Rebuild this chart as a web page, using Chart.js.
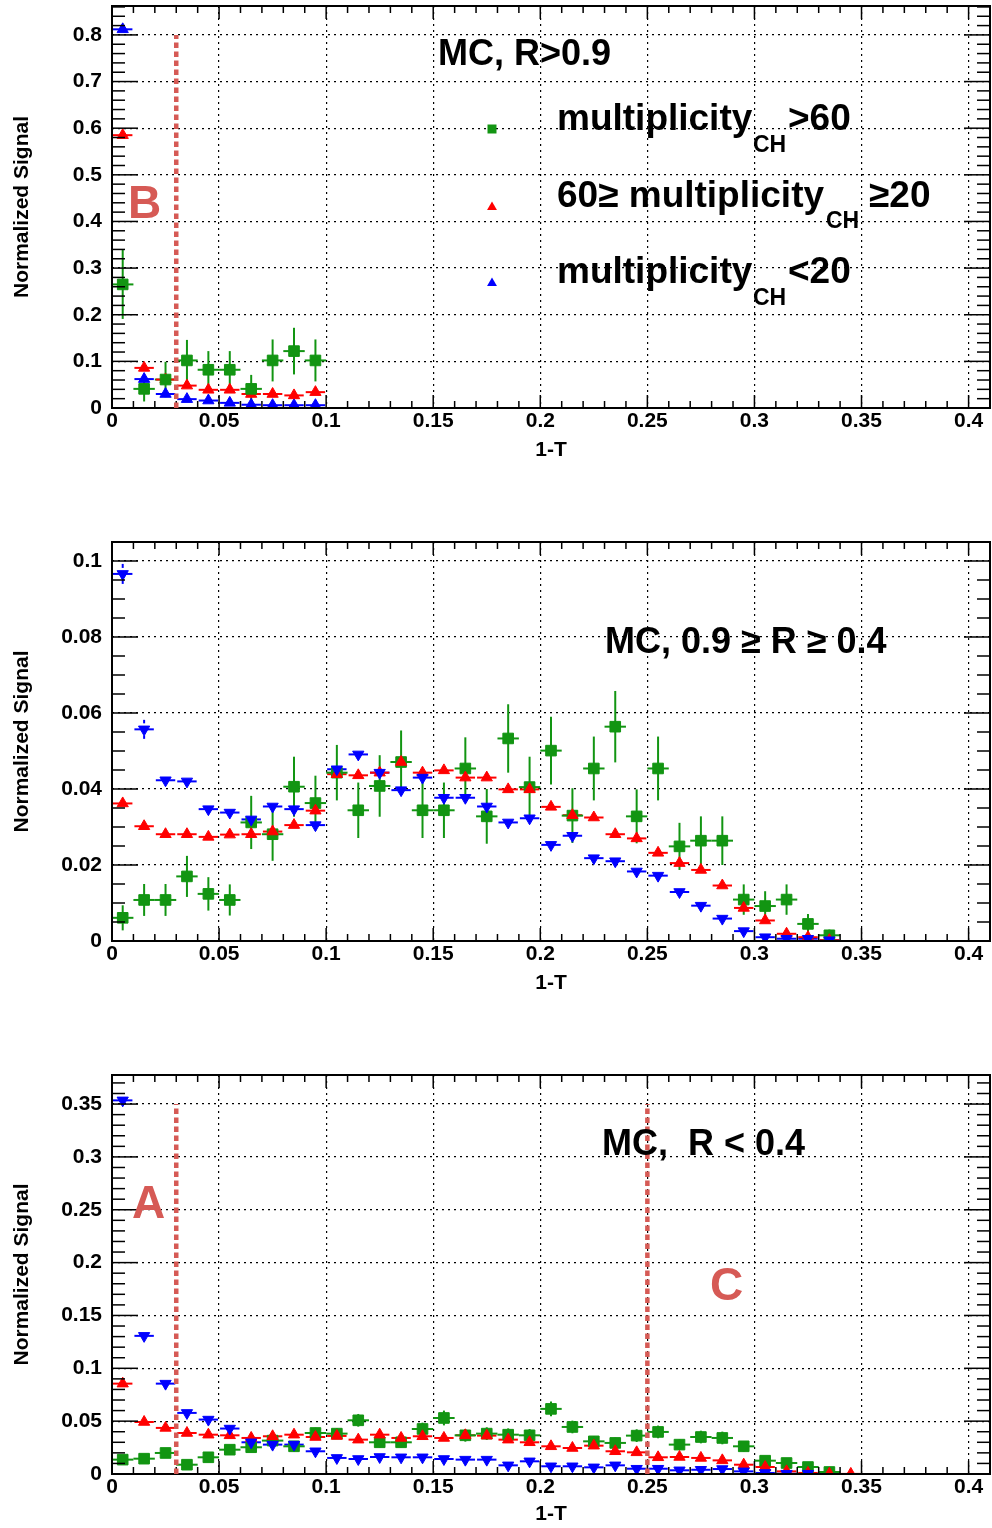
<!DOCTYPE html>
<html>
<head>
<meta charset="utf-8">
<script src="https://cdn.jsdelivr.net/npm/chart.js@4.4.1/dist/chart.umd.min.js"></script>
<style>
html,body{margin:0;padding:0;background:#fff;width:992px;height:1528px;overflow:hidden;}
canvas{position:absolute;left:0;}
</style>
</head>
<body>
<canvas id="c1"></canvas>
<canvas id="c2"></canvas>
<canvas id="c3"></canvas>
<script>
// ================= DATA =================
const BIN_HALF = 0.005;
const X_TICK_STEP = 0.05;

// ---- Panel 1 : MC, R>0.9 ----
const topBins   = [0.005,0.015,0.025,0.035,0.045,0.055,0.065,0.075,0.085,0.095];
const topGreen  = [0.265,0.041,0.061,0.102,0.082,0.082,0.041,0.102,0.122,0.102];
const topGreenErr=[0.074,0.027,0.038,0.044,0.040,0.040,0.030,0.045,0.050,0.045];
const topRed    = [0.585,0.086,0.061,0.048,0.039,0.039,0.030,0.030,0.027,0.034];
const topRedErr = [0.010,0.006,0.004,0.003,0.003,0.003,0.002,0.002,0.002,0.002];
const topBlue   = [0.812,0.062,0.030,0.019,0.016,0.011,0.007,0.006,0.006,0.006];
const topBlueErr= [0.008,0.010,0.005,0.003,0.002,0.002,0.001,0.001,0.001,0.001];

// ---- Panel 2 : MC, 0.9 >= R >= 0.4 ----
const midBins = [0.005,0.015,0.025,0.035,0.045,0.055,0.065,0.075,0.085,0.095,
                 0.105,0.115,0.125,0.135,0.145,0.155,0.165,0.175,0.185,0.195,
                 0.205,0.215,0.225,0.235,0.245,0.255,0.265,0.275,0.285,0.295,
                 0.305,0.315,0.325,0.335];
const midGreen = [0.0061,0.0108,0.0108,0.0170,0.0124,0.0108,0.0312,0.0281,0.0406,0.0363,
                  0.0443,0.0344,0.0408,0.0471,0.0344,0.0344,0.0454,0.0328,0.0533,0.0405,
                  0.0501,0.0330,0.0454,0.0564,0.0328,0.0454,0.0249,0.0264,0.0264,0.0109,
                  0.0092,0.0109,0.0045,0.0015];
const midGreenErr=[0.0033,0.0042,0.0042,0.0054,0.0044,0.0041,0.0070,0.0070,0.0079,0.0072,
                  0.0073,0.0073,0.0081,0.0083,0.0073,0.0073,0.0082,0.0072,0.0090,0.0080,
                  0.0089,0.0072,0.0084,0.0094,0.0071,0.0084,0.0062,0.0064,0.0064,0.0040,
                  0.0039,0.0040,0.0026,0.0015];
const midRed = [0.0362,0.0302,0.0281,0.0281,0.0274,0.0280,0.0281,0.0288,0.0305,0.0343,
                0.0439,0.0436,0.0443,0.0471,0.0443,0.0449,0.0430,0.0430,0.0399,0.0399,
                0.0353,0.0331,0.0325,0.0281,0.0270,0.0232,0.0205,0.0187,0.0146,0.0087,
                0.0054,0.0019,0.0010,0.0002];
const midBlue = [0.0966,0.0557,0.0423,0.0420,0.0347,0.0338,0.0320,0.0354,0.0347,0.0305,
                 0.0452,0.0491,0.0443,0.0397,0.0430,0.0377,0.0377,0.0354,0.0312,0.0323,
                 0.0253,0.0277,0.0218,0.0210,0.0183,0.0172,0.0129,0.0093,0.0059,0.0026,
                 0.0010,0.0006,0.0006,0.0002];
const midBlueErr = [0.0030,0.0025,0.0010,0.0010,0.0010,0.0010,0.0010,0.0010,0.0010,0.0010,
                    0.0010,0.0010,0.0010,0.0010,0.0010,0.0010,0.0010,0.0010,0.0010,0.0010,
                    0.0010,0.0010,0.0010,0.0010,0.0010,0.0010,0.0008,0.0008,0.0006,0.0004,
                    0.0002,0.0002,0.0002,0.0001];

// ---- Panel 3 : MC, R < 0.4 ----
const botBins = [0.005,0.015,0.025,0.035,0.045,0.055,0.065,0.075,0.085,0.095,
                 0.105,0.115,0.125,0.135,0.145,0.155,0.165,0.175,0.185,0.195,
                 0.205,0.215,0.225,0.235,0.245,0.255,0.265,0.275,0.285,0.295,
                 0.305,0.315,0.325,0.335,0.345];
const botGreen = [0.0136,0.0145,0.0199,0.0088,0.0158,0.0230,0.0253,0.0316,0.0262,0.0388,
                  0.0382,0.0508,0.0300,0.0300,0.0426,0.0530,0.0366,0.0382,0.0372,0.0366,
                  0.0616,0.0445,0.0309,0.0294,0.0363,0.0398,0.0278,0.0350,0.0341,0.0262,
                  0.0126,0.0104,0.0066,0.0019];
const botGreenErr=[0.003,0.003,0.004,0.003,0.004,0.004,0.004,0.005,0.005,0.005,
                   0.005,0.006,0.005,0.005,0.006,0.007,0.006,0.006,0.006,0.006,
                   0.007,0.006,0.005,0.005,0.006,0.006,0.005,0.006,0.006,0.005,
                   0.004,0.003,0.003,0.002];
const botRed = [0.0855,0.0492,0.0436,0.0388,0.0372,0.0366,0.0341,0.0357,0.0372,0.0350,
                0.0360,0.0325,0.0372,0.0341,0.0357,0.0341,0.0366,0.0363,0.0325,0.0300,
                0.0262,0.0246,0.0268,0.0215,0.0205,0.0158,0.0161,0.0152,0.0129,0.0088,
                0.0066,0.0025,0.0010,0.0003,0.0001];
const botBlue = [0.3535,0.1307,0.0855,0.0578,0.0515,0.0430,0.0300,0.0278,0.0278,0.0215,
                 0.0152,0.0142,0.0161,0.0158,0.0158,0.0142,0.0136,0.0136,0.0082,0.0120,
                 0.0073,0.0073,0.0063,0.0082,0.0050,0.0050,0.0035,0.0040,0.0047,0.0025,
                 0.0010,0.0003,0.0003];
const botBlueErr = [0.0060,0.0040,0.0030,0.0020,0.0020,0.0020,0.0015,0.0015,0.0015,0.0012,
                    0.0010,0.0010,0.0010,0.0010,0.0010,0.0010,0.0010,0.0010,0.0008,0.0010,
                    0.0008,0.0008,0.0008,0.0008,0.0006,0.0006,0.0005,0.0005,0.0005,0.0004,
                    0.0002,0.0001,0.0001];

// ================= STYLE =================
const FONT = '"Liberation Sans", Arial, Helvetica, sans-serif';
const GREEN = '#129512';
const RED = '#ff0000';
const BLUE = '#0000ff';
const ANNOT = '#d65a55';
const CHART_LEFT = 112, CHART_RIGHT = 990;

function pts(xs, ys){ return ys.map((v,i)=>({x:xs[i], y:v})); }
function line(ctx,x1,y1,x2,y2){ ctx.beginPath(); ctx.moveTo(x1,y1); ctx.lineTo(x2,y2); ctx.stroke(); }

function drawErrors(chart){
  const ctx = chart.ctx, xs = chart.scales.x, ys = chart.scales.y, a = chart.chartArea;
  ctx.save();
  ctx.beginPath(); ctx.rect(a.left, a.top-2, a.width, a.height+2); ctx.clip();
  chart.data.datasets.forEach(ds=>{
    ctx.strokeStyle = ds.borderColor; ctx.lineWidth = 2; ctx.lineCap = 'butt';
    ds.data.forEach((p,i)=>{
      const px = xs.getPixelForValue(p.x), py = ys.getPixelForValue(p.y);
      const xl = xs.getPixelForValue(p.x - BIN_HALF), xr = xs.getPixelForValue(p.x + BIN_HALF);
      const e = ds.errY ? (ds.errY[i]||0) : 0;
      const yt = ys.getPixelForValue(p.y + e), yb = ys.getPixelForValue(p.y - e);
      ctx.setLineDash([]);
      if (ds.solidBars){
        line(ctx, xl, py, xr, py);
        if (e) line(ctx, px, yt, px, yb);
      } else {
        line(ctx, xl+1, py, xr-1, py);
        const g = 6;
        if (e && yt < py - g - 1){
          ctx.setLineDash([4,3]);
          line(ctx, px, py-g, px, yt);
          if (yb > py + g) line(ctx, px, py+g, px, yb);
          ctx.setLineDash([]);
        }
      }
    });
  });
  ctx.restore();
}

function drawFrameTicks(chart, cfg){
  const ctx = chart.ctx, a = chart.chartArea, xs = chart.scales.x, ys = chart.scales.y;
  ctx.save();
  ctx.strokeStyle = '#000'; ctx.lineWidth = 1.5; ctx.setLineDash([]);
  for (let k = 0; k * 0.01 <= cfg.xmax + 1e-9; k++){
    const px = xs.getPixelForValue(k * 0.01);
    if (px < a.left - 0.5 || px > a.right + 0.5) continue;
    const L = (k % 5 === 0) ? 13 : 7;
    line(ctx, px, a.bottom, px, a.bottom - L);
    line(ctx, px, a.top, px, a.top + L);
  }
  const n = Math.round(cfg.ymajor / cfg.yminor);
  for (let k = 0; k * cfg.yminor <= cfg.ymax + 1e-9; k++){
    const py = ys.getPixelForValue(k * cfg.yminor);
    if (py < a.top - 0.5) continue;
    const L = (k % n === 0) ? 26 : 13;
    line(ctx, a.left, py, a.left + L, py);
    line(ctx, a.right, py, a.right - L, py);
  }
  ctx.lineWidth = 2;
  ctx.strokeRect(a.left, a.top, a.width, a.height);
  ctx.restore();
}

function drawMarker(ctx, kind, x, y, s, color){
  ctx.save(); ctx.fillStyle = color;
  ctx.beginPath();
  if (kind === 'rect'){ ctx.rect(x - s/2, y - s/2, s, s); }
  else { ctx.moveTo(x, y - s*0.5); ctx.lineTo(x + s*0.55, y + s*0.45); ctx.lineTo(x - s*0.55, y + s*0.45); ctx.closePath(); }
  ctx.fill(); ctx.restore();
}

function drawAnnot(chart, cfg){
  const ctx = chart.ctx, xs = chart.scales.x, ys = chart.scales.y, off = cfg.canvasTop;
  ctx.save();
  (cfg.vlines||[]).forEach(v=>{
    ctx.strokeStyle = ANNOT; ctx.lineWidth = 4.5; ctx.setLineDash([5.5,3.5]);
    line(ctx, xs.getPixelForValue(v.x), ys.getPixelForValue(v.y0), xs.getPixelForValue(v.x), ys.getPixelForValue(v.y1));
  });
  ctx.setLineDash([]);
  ctx.textBaseline = 'alphabetic'; ctx.textAlign = 'left';
  (cfg.texts||[]).forEach(t=>{
    ctx.fillStyle = t.color || '#000';
    ctx.font = 'bold ' + t.size + 'px ' + FONT;
    ctx.fillText(t.text, t.x, t.y - off);
  });
  (cfg.markers||[]).forEach(m=> drawMarker(ctx, m.kind, m.x, m.y - off, m.s, m.color));
  ctx.restore();
}

function makeChart(id, cfg, datasets){
  const cv = document.getElementById(id);
  cv.width = 992; cv.height = cfg.canvasH;
  cv.style.top = cfg.canvasTop + 'px';
  cv.style.width = '992px'; cv.style.height = cfg.canvasH + 'px';
  const tickFont = {family: FONT, size: 21, weight: 'bold'};
  const titleFont = {family: FONT, size: 21, weight: 'bold'};
  const fmt = v => String(+(+v).toFixed(3));
  const xAxisH = cfg.canvasTop + cfg.canvasH - cfg.chartBottom;
  const chart = new Chart(cv, {
    type: 'scatter',
    data: {datasets},
    options: {
      responsive: false, animation: false, devicePixelRatio: 1,
      layout: {autoPadding: false, padding: {top: cfg.chartTop - cfg.canvasTop, right: 992 - CHART_RIGHT, left: 0, bottom: 0}},
      plugins: {legend: {display: false}, tooltip: {enabled: false}},
      scales: {
        x: {
          type: 'linear', min: 0, max: cfg.xmax,
          afterFit: s => { s.height = xAxisH; s.paddingLeft = 0; s.paddingRight = 0; },
          ticks: {stepSize: X_TICK_STEP, includeBounds: false, padding: 1, color: '#000', font: tickFont, maxRotation: 0, autoSkip: false, callback: fmt},
          grid: {color: '#000', lineWidth: 1.2, drawTicks: false},
          border: {display: false, dash: [2,4]},
          title: {display: true, text: '1-T', color: '#000', font: titleFont, padding: {top: 0, bottom: cfg.xTitlePad}}
        },
        y: {
          type: 'linear', min: 0, max: cfg.ymax,
          afterFit: s => { s.width = CHART_LEFT; s.paddingTop = 0; s.paddingBottom = 0; },
          ticks: {stepSize: cfg.ymajor, includeBounds: false, padding: 10, color: '#000', font: tickFont, autoSkip: false, callback: fmt},
          grid: {color: '#000', lineWidth: 1.2, drawTicks: false},
          border: {display: false, dash: [2,4]},
          title: {display: true, text: 'Normalized Signal', color: '#000', font: titleFont, padding: {top: 10, bottom: 0}}
        }
      }
    },
    plugins: [{
      id: 'rootDeco' + id,
      beforeDatasetsDraw(chart){ drawErrors(chart); },
      afterDatasetsDraw(chart){ drawFrameTicks(chart, cfg); drawAnnot(chart, cfg); }
    }]
  });
  for (let it = 0; it < 3; it++){
    const a = chart.chartArea;
    const p = Object.assign({}, chart.options.layout.padding);
    const dTop = (cfg.chartTop - cfg.canvasTop) - a.top;
    const dBot = a.bottom - (cfg.chartBottom - cfg.canvasTop);
    const dLeft = CHART_LEFT - a.left;
    const dRight = a.right - CHART_RIGHT;
    if (Math.abs(dTop) < 0.5 && Math.abs(dBot) < 0.5 && Math.abs(dLeft) < 0.5 && Math.abs(dRight) < 0.5) break;
    chart.options.layout.padding = {top: p.top + dTop, bottom: p.bottom + dBot, left: p.left + dLeft, right: p.right + dRight};
    chart.update('none');
  }
  return chart;
}

function ds(label, xs, ys, err, color, style, rotation, solid, radius){
  return {
    label, data: pts(xs, ys), errY: err, solidBars: solid,
    borderColor: color, backgroundColor: color,
    pointStyle: style, pointRotation: rotation, pointRadius: radius, pointBorderWidth: 1,
    pointBorderColor: color, pointBackgroundColor: color, showLine: false
  };
}

// ---- Panel 1 ----
makeChart('c1', {
  canvasTop: 0, canvasH: 470, chartTop: 6, chartBottom: 408, xTitlePad: 7,
  xmax: 0.41, ymax: 0.862, ymajor: 0.1, yminor: 0.02,
  vlines: [{x: 0.03, y0: 0, y1: 0.8}],
  texts: [
    {text: 'B', x: 128, y: 218, size: 46, color: ANNOT},
    {text: 'MC, R>0.9', x: 438, y: 65, size: 36},
    {text: 'multiplicity', x: 557, y: 130, size: 37},
    {text: 'CH', x: 753, y: 152, size: 23},
    {text: '>60', x: 788, y: 130, size: 37},
    {text: '60\u2265 multiplicity', x: 557, y: 207, size: 37},
    {text: 'CH', x: 826, y: 228, size: 23},
    {text: '\u226520', x: 869, y: 207, size: 37},
    {text: 'multiplicity', x: 557, y: 283, size: 37},
    {text: 'CH', x: 753, y: 305, size: 23},
    {text: '<20', x: 788, y: 283, size: 37}
  ],
  markers: [
    {kind: 'rect', x: 492, y: 129, s: 9, color: GREEN},
    {kind: 'up', x: 492, y: 206, s: 9, color: RED},
    {kind: 'up', x: 492, y: 282, s: 9, color: BLUE}
  ]
}, [
  ds('mult>60', topBins, topGreen, topGreenErr, GREEN, 'rect', 0, true, 7.5),
  ds('60>=mult>=20', topBins, topRed, topRedErr, RED, 'triangle', 0, false, 6.5),
  ds('mult<20', topBins, topBlue, topBlueErr, BLUE, 'triangle', 0, false, 6.5)
]);

// ---- Panel 2 ----
makeChart('c2', {
  canvasTop: 530, canvasH: 473, chartTop: 542, chartBottom: 941, xTitlePad: 7,
  xmax: 0.41, ymax: 0.105, ymajor: 0.02, yminor: 0.005,
  vlines: [],
  texts: [
    {text: 'MC, 0.9 \u2265 R \u2265 0.4', x: 605, y: 653, size: 36}
  ],
  markers: []
}, [
  ds('mult<20', midBins, midBlue, midBlueErr, BLUE, 'triangle', 180, false, 6.5),
  ds('60>=mult>=20', midBins, midRed, null, RED, 'triangle', 0, false, 6.5),
  ds('mult>60', midBins, midGreen, midGreenErr, GREEN, 'rect', 0, true, 7.5)
]);

// ---- Panel 3 ----
makeChart('c3', {
  canvasTop: 1064, canvasH: 464, chartTop: 1075, chartBottom: 1474, xTitlePad: 1,
  xmax: 0.41, ymax: 0.3775, ymajor: 0.05, yminor: 0.01,
  vlines: [{x: 0.03, y0: 0, y1: 0.35}, {x: 0.25, y0: 0, y1: 0.35}],
  texts: [
    {text: 'A', x: 132, y: 1218, size: 46, color: ANNOT},
    {text: 'C', x: 710, y: 1300, size: 46, color: ANNOT},
    {text: 'MC,  R < 0.4', x: 602, y: 1155, size: 36}
  ],
  markers: []
}, [
  ds('mult<20', botBins.slice(0, botBlue.length), botBlue, botBlueErr, BLUE, 'triangle', 180, false, 6.5),
  ds('60>=mult>=20', botBins.slice(0, botRed.length), botRed, null, RED, 'triangle', 0, false, 6.5),
  ds('mult>60', botBins.slice(0, botGreen.length), botGreen, botGreenErr, GREEN, 'rect', 0, true, 7.5)
]);
</script>
</body>
</html>
